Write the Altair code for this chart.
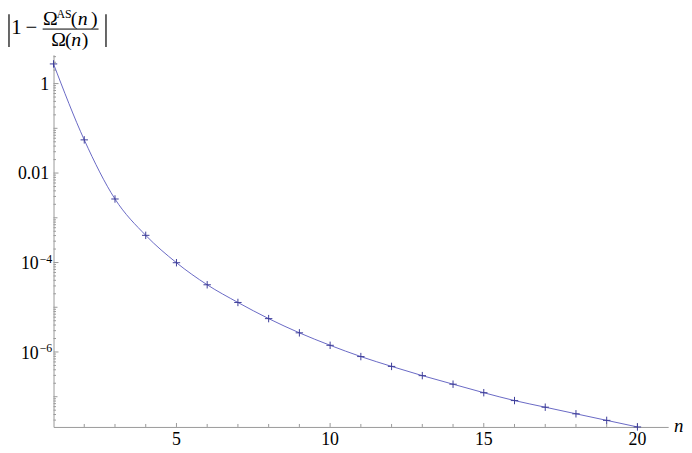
import altair as alt
import pandas as pd

# ---- data ----
n_values = list(range(1, 21))
rel_error = [2.75, 0.0552, 0.00263, 4.05e-4, 9.9e-5, 3.18e-5, 1.28e-5, 5.57e-6,
             2.68e-6, 1.41e-6, 7.9e-7, 4.76e-7, 2.96e-7, 1.905e-7, 1.23e-7,
             8.2e-8, 5.83e-8, 4.15e-8, 2.96e-8, 2.11e-8]

x_major_ticks = [5, 10, 15, 20]
x_minor_ticks = [v for v in range(2, 21) if v % 5 != 0]
y_major_ticks = [1, 1e-2, 1e-4, 1e-6]
y_major_base = ["1", "0.01", "10", "10"]
y_major_sup = ["", "", "\u22124", "\u22126"]
y_decade_ticks = [1e-1, 1e-3, 1e-5, 1e-7]
x_domain = [1, 21]
y_domain = [2.11e-8, 4.4]
y_fine_ticks = [k * 10.0 ** m for m in range(-8, 1) for k in range(2, 10)
                if y_domain[0] <= k * 10.0 ** m <= y_domain[1]]

W, H = 621, 376
SERIF = "'Liberation Serif', 'Times New Roman', Times, 'DejaVu Serif', serif"
LINE_COLOR = "#6868c4"
MARK_COLOR = "#3d3d99"
AXIS_COLOR = "#999999"

df = pd.DataFrame({"n": n_values, "err": rel_error})
df_xmaj = pd.DataFrame({"v": x_major_ticks, "lab": [str(v) for v in x_major_ticks]})
df_xmin = pd.DataFrame({"v": x_minor_ticks})
df_ymaj = pd.DataFrame({"v": y_major_ticks, "base": y_major_base, "sup": y_major_sup})
df_ydec = pd.DataFrame({"v": y_decade_ticks})
df_yfine = pd.DataFrame({"v": y_fine_ticks})
one = pd.DataFrame({"k": [0]})

xs = alt.Scale(domain=x_domain, nice=False, zero=False)
ys = alt.Scale(type="log", domain=y_domain, nice=False)
x_axis = alt.Axis(labels=False, ticks=False, grid=False, domainColor=AXIS_COLOR,
                  domainWidth=1, title=None)
y_axis = alt.Axis(labels=False, ticks=False, grid=False, domainColor=AXIS_COLOR,
                  domainWidth=1, title=None)


def X(field):
    return alt.X(field, scale=xs, axis=x_axis)


def Y(field):
    return alt.Y(field, scale=ys, axis=y_axis)


line = alt.Chart(df).mark_line(color=LINE_COLOR, strokeWidth=1, interpolate="monotone").encode(
    x=X("n:Q"), y=Y("err:Q"))
points = alt.Chart(df).mark_point(shape="M-1,0L1,0M0,-1L0,1", filled=False, size=56,
                                  strokeWidth=1, color=MARK_COLOR, opacity=1).encode(
    x=X("n:Q"), y=Y("err:Q"))

# x ticks (drawn inward, Mathematica style)
xt_maj = alt.Chart(df_xmaj).mark_rule(color=AXIS_COLOR, strokeWidth=1).encode(
    x=X("v:Q"), y=alt.value(H), y2=alt.value(H - 4))
xt_min = alt.Chart(df_xmin).mark_rule(color=AXIS_COLOR, strokeWidth=1).encode(
    x=X("v:Q"), y=alt.value(H), y2=alt.value(H - 3))
x_labels = alt.Chart(df_xmaj).mark_text(font=SERIF, fontSize=18, baseline="middle",
                                        color="black").encode(
    x=X("v:Q"), y=alt.value(H + 13.5), text="lab:N")

# y ticks
yt_maj = alt.Chart(df_ymaj).mark_rule(color=AXIS_COLOR, strokeWidth=1).encode(
    y=Y("v:Q"), x=alt.value(0), x2=alt.value(5))
yt_dec = alt.Chart(df_ydec).mark_rule(color=AXIS_COLOR, strokeWidth=1).encode(
    y=Y("v:Q"), x=alt.value(0), x2=alt.value(4))
yt_fine = alt.Chart(df_yfine).mark_rule(color=AXIS_COLOR, strokeWidth=1).encode(
    y=Y("v:Q"), x=alt.value(0), x2=alt.value(2.5))

y_lab_plain = alt.Chart(df_ymaj).transform_filter("datum.sup == ''").mark_text(
    font=SERIF, fontSize=18, align="right", baseline="middle", dy=1.5, color="black").encode(
    y=Y("v:Q"), x=alt.value(-4.5), text="base:N")
y_lab_base = alt.Chart(df_ymaj).transform_filter("datum.sup != ''").mark_text(
    font=SERIF, fontSize=18, align="right", baseline="middle", dy=2, color="black").encode(
    y=Y("v:Q"), x=alt.value(-15), text="base:N")
y_lab_sup = alt.Chart(df_ymaj).transform_filter("datum.sup != ''").mark_text(
    font=SERIF, fontSize=12, align="left", baseline="middle", dy=-4, color="black").encode(
    y=Y("v:Q"), x=alt.value(-14), text="sup:N")

n_label = alt.Chart(one).mark_text(font=SERIF, fontSize=19, fontStyle="italic", align="left",
                                   baseline="middle", text="n", color="black").encode(
    x=alt.value(W + 6), y=alt.value(H - 0.5))


# ---- y-axis title: | 1 - Omega^AS(n) / Omega(n) | ----
def txt(s, x, y, size=20, align="left", italic=False):
    kw = dict(font=SERIF, fontSize=size, align=align, baseline="alphabetic", text=s,
              color="black")
    if italic:
        kw["fontStyle"] = "italic"
    return alt.Chart(one).mark_text(**kw).encode(x=alt.value(x), y=alt.value(y))


def bar(x1, x2, y1, y2, w=1.2):
    return alt.Chart(one).mark_rule(color="black", strokeWidth=w).encode(
        x=alt.value(x1), x2=alt.value(x2), y=alt.value(y1), y2=alt.value(y2))


num_base = -30.5
den_base = -8.5
title_parts = [
    bar(-45, -45, -41, -8),
    bar(53, 53, -41, -8),
    txt("1", -37.5, -21, size=21, align="center"),
    txt("\u2212", -22.5, -21, size=21, align="center"),
    bar(-11, 45.5, -26, -26, w=1),
    # numerator
    txt("\u03a9", -10.7, num_base),
    txt("AS", 3, num_base - 7, size=12),
    txt("(", 17.5, num_base),
    txt("n", 24.5, num_base, italic=True),
    txt(")", 44.5, num_base, align="right"),
    # denominator
    txt("\u03a9", -2.3, den_base),
    txt("(", 11.7, den_base),
    txt("n", 18, den_base, italic=True),
    txt(")", 35.3, den_base, align="right"),
]

chart = alt.layer(
    yt_fine, yt_dec, yt_maj, xt_min, xt_maj,
    line, points,
    x_labels, y_lab_plain, y_lab_base, y_lab_sup, n_label,
    *title_parts,
).properties(
    width=W, height=H,
    autosize=alt.AutoSizeParams(type="none"),
    padding={"left": 46, "top": 45, "right": 16, "bottom": 20},
    background="white",
).configure_view(stroke="transparent")

chart.save("out.html", embed_options={"renderer": "svg", "actions": False})
